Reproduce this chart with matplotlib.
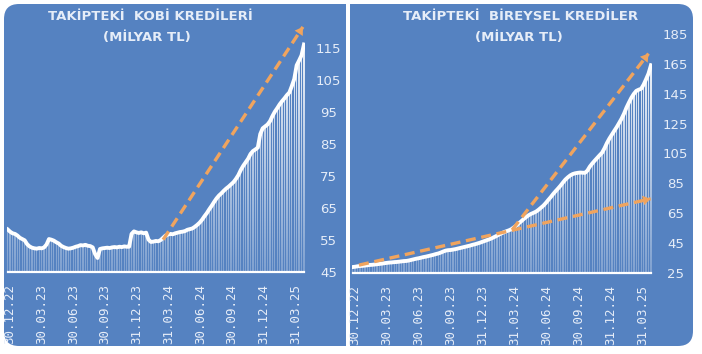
import matplotlib
matplotlib.use("Agg")
import matplotlib.pyplot as plt
import matplotlib.dates as mdates
from matplotlib.patches import FancyBboxPatch, Rectangle
from matplotlib.path import Path
import numpy as np
import pandas as pd

# weekly observations
weeks = pd.date_range("2022-12-23", periods=123, freq="7D")

kobi = [
    58.2, 57.5, 57.0, 56.8, 56.3, 55.6, 55.2, 54.8, 53.6, 52.9,
    52.5, 52.3, 52.2, 52.4, 52.3, 52.6, 53.5, 55.2, 55.0, 54.7,
    54.2, 53.8, 53.1, 52.7, 52.4, 52.2, 52.3, 52.5, 52.8, 53.0,
    53.3, 53.2, 53.4, 53.1, 53.0, 52.6, 50.5, 49.3, 52.1, 52.3,
    52.4, 52.5, 52.4, 52.6, 52.7, 52.6, 52.8, 52.7, 52.9, 52.8,
    52.8, 56.8, 57.6, 57.3, 57.1, 57.3, 57.0, 57.2, 55.0, 54.3,
    54.4, 54.6, 54.5, 54.9, 55.6, 56.3, 56.6, 56.8, 56.7, 57.0,
    57.2, 57.4, 57.5, 57.7, 58.1, 58.3, 58.5, 59.0, 59.6, 60.3,
    61.2, 62.3, 63.3, 64.5, 65.6, 66.8, 67.9, 68.8, 69.5, 70.3,
    71.0, 71.6, 72.3, 73.0, 74.0, 75.2, 76.8, 78.1, 79.2, 80.3,
    81.8, 82.7, 83.2, 83.8, 88.0, 89.8, 90.4, 91.0, 92.0, 93.6,
    95.0, 96.1, 97.3, 98.3, 99.2, 100.2, 101.0, 103.0, 105.2, 109.5,
    111.0, 112.6, 116.0,
]

bireysel = [
    28.8, 29.0, 29.3, 29.5, 29.6, 29.8, 30.0, 30.2, 30.3, 30.5,
    30.7, 30.9, 31.1, 31.4, 31.6, 31.8, 31.9, 32.1, 32.2, 32.4,
    32.6, 32.8, 32.9, 33.2, 33.6, 34.0, 34.4, 34.7, 35.1, 35.5,
    35.8, 36.2, 36.6, 37.0, 37.5, 37.9, 38.5, 39.2, 39.8, 40.1,
    40.2, 40.5, 40.8, 41.2, 41.6, 42.0, 42.4, 42.8, 43.2, 43.7,
    44.1, 44.6, 45.1, 45.7, 46.3, 46.9, 47.5, 48.2, 49.0, 49.8,
    50.7, 51.5, 52.3, 52.9, 53.5, 54.3, 55.5, 56.8, 58.2, 59.6,
    61.1, 62.4, 63.6, 64.5, 65.2, 66.0, 67.2, 68.6, 70.0, 71.8,
    73.8, 75.7, 77.8, 79.7, 81.5, 83.4, 85.5, 87.5, 89.0, 90.3,
    91.2, 91.7, 92.0, 92.2, 92.1, 92.0, 93.5, 96.2, 98.3, 100.2,
    102.0, 103.8, 105.5, 108.5, 112.0, 115.0, 117.6, 120.2, 122.7, 125.5,
    128.4, 131.8, 135.8, 139.2, 142.4, 145.0, 147.0, 147.8, 148.4, 151.2,
    154.8, 158.6, 164.2,
]

tick_dates = pd.to_datetime([
    "2022-12-30", "2023-03-30", "2023-06-30", "2023-09-30", "2023-12-31",
    "2024-03-31", "2024-06-30", "2024-09-30", "2024-12-31", "2025-03-31",
])
tick_labels = [
    "30.12.22", "30.03.23", "30.06.23", "30.09.23", "31.12.23",
    "31.03.24", "30.06.24", "30.09.24", "31.12.24", "31.03.25",
]

kobi_yticks = [45, 55, 65, 75, 85, 95, 105, 115]
bireysel_yticks = [25, 45, 65, 85, 105, 125, 145, 165, 185]

# trend arrows: (dates, values)
kobi_arrows = [(["2024-03-15", "2025-04-22"], [55.0, 121.5])]
bireysel_arrows = [
    (["2024-03-24", "2025-04-18"], [53.9, 172.0]),
    (["2023-01-10", "2025-04-24"], [30.1, 74.6]),
]

BLUE = "#5582c1"
ORANGE = "#f0a45e"
LIGHT = "#e6edf8"

fig = plt.figure(figsize=(7.02, 3.54), dpi=100)
fig.patch.set_facecolor("white")
tr = fig.dpi_scale_trans

# panels (inches, origin bottom-left)
fig.add_artist(FancyBboxPatch((0.04, 0.08), 3.42, 3.42, boxstyle="round,pad=0,rounding_size=0.15",
                              transform=tr, fc=BLUE, ec="none", zorder=-2))
fig.add_artist(Rectangle((1.8, 0.08), 1.66, 3.42, transform=tr, fc=BLUE, ec="none", zorder=-2))
fig.add_artist(FancyBboxPatch((3.50, 0.08), 3.43, 3.42, boxstyle="round,pad=0,rounding_size=0.15",
                              transform=tr, fc=BLUE, ec="none", zorder=-2))
fig.add_artist(Rectangle((3.50, 0.08), 1.7, 3.42, transform=tr, fc=BLUE, ec="none", zorder=-2))


def draw_panel(rect, values, ylim, yticks, arrows, ypad):
    ax = fig.add_axes(rect)
    ax.set_facecolor("none")
    base = ylim[0]
    vals = np.array(values)
    xlim = (pd.Timestamp("2022-12-21"), pd.Timestamp("2025-04-28"))

    # thin vertical bars, filled with a white-to-blue gradient
    bars = ax.bar(weeks, vals - base, bottom=base, width=3.8, linewidth=0)
    paths = [b.get_path().transformed(b.get_patch_transform()) for b in bars]
    for b in bars:
        b.set_visible(False)
    clip = Path.make_compound_path(*paths)
    grad = np.zeros((256, 1, 4))
    grad[..., :3] = 1.0
    grad[:, 0, 3] = np.linspace(0.9, 0.25, 256)
    x0, x1 = mdates.date2num(xlim[0]), mdates.date2num(xlim[1])
    im = ax.imshow(grad, extent=(x0, x1, base, vals.max()), aspect="auto",
                   interpolation="bilinear", zorder=2)
    im.set_clip_path(clip, ax.transData)

    ax.plot(weeks, vals, color="white", lw=2.8, solid_joinstyle="round", zorder=3)
    ax.plot([weeks[0], weeks[-1]], [base, base], color="white", lw=1.6, clip_on=False, zorder=3)
    for dates, yv in arrows:
        xd = mdates.date2num(pd.to_datetime(dates))
        ax.plot(xd, yv, color=ORANGE, lw=2.4, ls=(0, (3, 1.7)), zorder=4)
        xs = xd[1] - 0.04 * (xd[1] - xd[0])
        ys = yv[1] - 0.04 * (yv[1] - yv[0])
        ax.annotate("", xy=(xd[1], yv[1]), xytext=(xs, ys),
                    arrowprops=dict(arrowstyle="-|>,head_length=0.55,head_width=0.35",
                                    color=ORANGE, lw=0, shrinkA=0, shrinkB=0), zorder=5)
    ax.set_xlim(*xlim)
    ax.set_ylim(*ylim)
    ax.yaxis.tick_right()
    ax.set_yticks(yticks)
    ax.set_xticks(tick_dates)
    ax.set_xticklabels(tick_labels, rotation=90, family="DejaVu Sans Mono", fontsize=9, color=LIGHT)
    ax.tick_params(axis="x", length=0, pad=9)
    ax.tick_params(axis="y", length=0, pad=ypad, labelsize=9.5, labelcolor=LIGHT)
    for lab in ax.get_yticklabels():
        lab.set_horizontalalignment("center")
    for s in ax.spines.values():
        s.set_visible(False)
    return ax


draw_panel([7 / 702, 82.3 / 354, 298 / 702, 249.6 / 354], kobi, (45, 123), kobi_yticks, kobi_arrows, 17)
draw_panel([352 / 702, 81.3 / 354, 300 / 702, 245.9 / 354], bireysel, (25, 190), bireysel_yticks, bireysel_arrows, 17)

title_kw = dict(ha="center", va="center", fontsize=9.5, fontweight="bold", color=LIGHT)
fig.text(150 / 702, 1 - 17 / 354, "TAKİPTEKİ  KOBİ KREDİLERİ", **title_kw)
fig.text(147 / 702, 1 - 38 / 354, "(MİLYAR TL)", **title_kw)
fig.text(521 / 702, 1 - 17 / 354, "TAKİPTEKİ  BİREYSEL KREDİLER", **title_kw)
fig.text(519 / 702, 1 - 38 / 354, "(MİLYAR TL)", **title_kw)

fig.savefig("out.png", dpi=100)
